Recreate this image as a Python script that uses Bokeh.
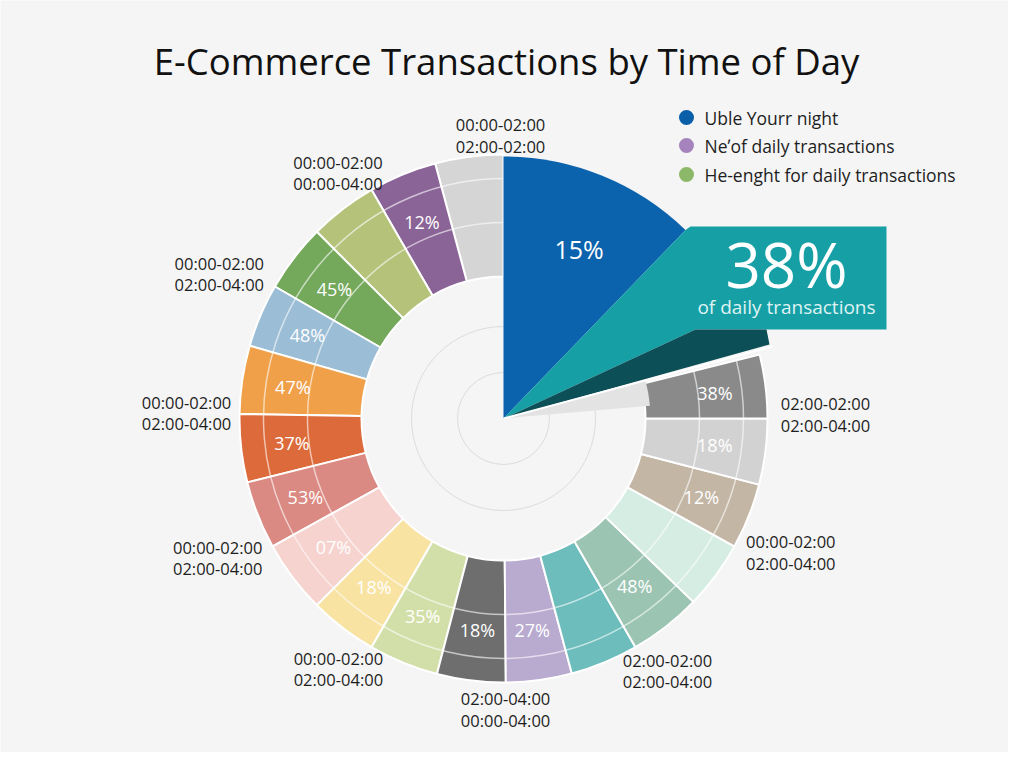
import math
from bokeh.plotting import figure
from bokeh.models import Range1d
from bokeh.core.properties import value
from bokeh.embed import file_html
from bokeh.resources import INLINE

# ring segments, counter-clockwise from 12 o'clock (angular span in degrees)
seg_span = [15, 15, 15, 15, 14, 15, 15, 15, 16, 15, 15.4, 15.1, 14.5, 15, 16, 15, 14.5, 14.5, 14]
seg_color = ["#d5d5d5", "#8b6497", "#b5c27a", "#74a95c", "#9bbdd6", "#efa049", "#dd6a3a",
             "#db8a83", "#f6d3cf", "#f8e3a3", "#d3dfa8", "#6e6e6e", "#b9aad0", "#6cbdbc",
             "#9cc4b3", "#d6ede4", "#c3b6a4", "#d2d2d2", "#8a8a8a"]
seg_label = ["", "12%", "", "45%", "48%", "47%", "37%", "53%", "07%", "18%", "35%",
             "18%", "27%", "", "48%", "", "12%", "18%", "38%"]

# highlighted slices
blue_share = "15%"
teal_share = "38%"
teal_caption = "of daily transactions"

# time-window labels around the ring
time_text = ["00:00-02:00\n02:00-02:00", "00:00-02:00\n00:00-04:00", "00:00-02:00\n02:00-04:00",
             "00:00-02:00\n02:00-04:00", "00:00-02:00\n02:00-04:00", "00:00-02:00\n02:00-04:00",
             "02:00-04:00\n00:00-04:00", "02:00-02:00\n02:00-04:00", "00:00-02:00\n02:00-04:00",
             "02:00-02:00\n02:00-04:00"]
time_angle = [90.6, 124, 153, 179, 206, 236.6, 270.4, 303, 335, 0.7]
time_r = [283, 296, 319, 317, 318, 300, 291, 301, 317, 322]

legend_labels = ["Uble Yourr night", "Ne\u02bcof daily transactions", "He-enght for daily transactions"]
legend_colors = ["#0b5ea8", "#a584bd", "#8cb86a"]

title = "E-Commerce Transactions by Time of Day"

# layout (data units = screen pixels, y flipped)
H = 768
cx, cy = 503, H - 418
r_in, r_b1, r_b2, r_out = 142, 196, 240, 264
r_lab = 213
FONT = "Open Sans"
BG = "#f5f5f5"

p = figure(width=1008, height=752, x_range=Range1d(0, 1008), y_range=Range1d(16, 768),
           output_backend="svg", toolbar_location=None, min_border=0)
p.axis.visible = False
p.grid.visible = False
p.outline_line_color = None
p.background_fill_color = BG
p.border_fill_color = BG

# faint guide circles in the hole
p.circle(x=[cx, cx], y=[cy, cy], radius=[46, 92], fill_color=None, line_color="#dcdcdc", line_width=1)

# ring
starts, ends = [], []
a = 90.0
for s in seg_span:
    starts.append(a)
    ends.append(a + s)
    a += s
p.annular_wedge(x=cx, y=cy, inner_radius=r_in, outer_radius=r_out, start_angle=starts, end_angle=ends,
                start_angle_units="deg", end_angle_units="deg", fill_color=seg_color,
                line_color="white", line_width=2)
for rr in (r_b1, r_b2):
    p.arc(x=cx, y=cy, radius=rr, start_angle=starts[0], end_angle=ends[-1],
          start_angle_units="deg", end_angle_units="deg", line_color="white", line_alpha=0.6, line_width=1.5)

mids = [(s + e) / 2 for s, e in zip(starts, ends)]
lx = [cx + r_lab * math.cos(math.radians(m)) for m in mids]
ly = [cy + r_lab * math.sin(math.radians(m)) for m in mids]
p.text(x=lx, y=ly, text=seg_label, text_color="white", text_font=value(FONT), text_font_size="18px",
       text_align="center", text_baseline="middle")

# shadow wedge under the callout
p.wedge(x=cx, y=cy, radius=147, start_angle=5, end_angle=15, start_angle_units="deg", end_angle_units="deg",
        fill_color="#e3e3e3", line_color=None)

# blue slice
p.wedge(x=cx, y=cy, radius=262, start_angle=46, end_angle=90, start_angle_units="deg", end_angle_units="deg",
        fill_color="#0b62ad", line_color=None)
p.text(x=[cx + 186 * math.cos(math.radians(66))], y=[cy + 186 * math.sin(math.radians(66))], text=[blue_share],
       text_color="white", text_font=value(FONT), text_font_size="25px", text_align="center", text_baseline="middle")

# teal slice + callout box
bx0, bx1, by0, by1 = 690, 886, H - 329, H - 226
ex = cx + 262 * math.cos(math.radians(46))
ey = cy + 262 * math.sin(math.radians(46))
p.patch(x=[cx, ex, bx0, bx1, bx1, 695, cx], y=[cy, ey, by1, by1, by0, by0, cy],
        fill_color="#16a0a6", line_color=None)
p.patch(x=[cx, 695, 766, 769, cx], y=[cy, by0, by0, H - 344, cy], fill_color="#0d4f57", line_color=None)
p.line(x=[cx, 772], y=[cy, H - 346], line_color="white", line_width=2)
p.text(x=[786], y=[H - 263], text=[teal_share], text_color="white", text_font=value(FONT),
       text_font_size="62px", text_align="center", text_baseline="middle")
p.text(x=[786], y=[H - 306], text=[teal_caption], text_color="#dff3f3", text_font=value(FONT),
       text_font_size="19px", text_align="center", text_baseline="middle")

# time labels
tx = [cx + r * math.cos(math.radians(t)) for r, t in zip(time_r, time_angle)]
ty = [cy + r * math.sin(math.radians(t)) for r, t in zip(time_r, time_angle)]
p.text(x=tx, y=ty, text=time_text, text_color="#1e1e1e", text_font=value(FONT), text_font_size="16.5px",
       text_align="center", text_baseline="middle", text_line_height=0.92)

# legend
ly0 = [H - 117, H - 145, H - 174]
p.scatter(x=[686] * 3, y=ly0, size=15, fill_color=legend_colors, line_color=None)
p.text(x=[704] * 3, y=ly0, text=legend_labels, text_color="#1e1e1e", text_font=value(FONT),
       text_font_size="17.5px", text_align="left", text_baseline="middle")

# title
p.text(x=[506], y=[H - 60], text=[title], text_color="#111111", text_font=value(FONT),
       text_font_size="36.5px", text_align="center", text_baseline="middle")

open("out.html", "w").write(file_html(p, INLINE))
